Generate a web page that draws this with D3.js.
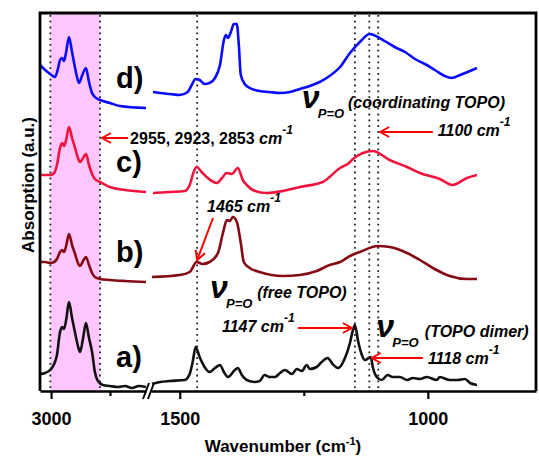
<!DOCTYPE html>
<html>
<head>
<meta charset="utf-8">
<script src="https://cdn.jsdelivr.net/npm/d3@7"></script>
<style>
  body { margin: 0; background: #fff; }
  text { font-family: Arial, "Liberation Sans", sans-serif; font-weight: bold; }
</style>
</head>
<body>
<div id="chart"></div>
<script>
var svgWidth = 539;
var svgHeight = 457;

var margin = { top: 13, right: 3, bottom: 66, left: 40 };
var width = svgWidth - margin.left - margin.right;
var height = svgHeight - margin.top - margin.bottom;

// dotted guide lines (wavenumber, cm-1)
var bandEdges = [3003, 2792];
var peakLines = [1465, 1147, 1118, 1100];

// tick labels
var leftTicks = [3000];
var leftMinor = [2750];
var rightTicks = [1500, 1000];
var rightMinor = [1250];

// spectra: [wavenumber, absorbance (a.u., offset)]
var aLeft = [[3047,17],[3025,18],[3004,21],[2987,27],[2975,36],[2962,59],[2953,64],[2945,62],[2936,71],[2924,89],[2911,73],[2898,58],[2886,45],[2877,39],[2864,53],[2852,68],[2839,53],[2826,39],[2814,19],[2801,10],[2780,6],[2750,5],[2716,4],[2686,5],[2657,3],[2627,5],[2597,4]];
var aRight = [[1556,7],[1540,9],[1520,10],[1490,11],[1480,17],[1474,29],[1468,44],[1460,34],[1450,24],[1440,19],[1429,23],[1419,26],[1411,19],[1403,14],[1389,21],[1383,23],[1375,16],[1365,11],[1349,9],[1339,10],[1329,16],[1319,14],[1308,14],[1298,18],[1288,21],[1274,17],[1264,22],[1254,20],[1244,26],[1238,22],[1224,24],[1214,29],[1202,33],[1192,27],[1181,23],[1167,33],[1157,48],[1151,61],[1147,66],[1141,51],[1135,39],[1127,31],[1119,33],[1115,34],[1111,24],[1103,14],[1093,11],[1081,16],[1071,14],[1056,14],[1042,11],[1030,13],[1016,12],[1002,14],[982,11],[976,14],[956,11],[940,11],[925,12],[915,8],[901,6]];

var bLeft = [[3047,129],[3025,129],[3004,128],[2987,129],[2975,132],[2962,139],[2953,141],[2945,139],[2936,145],[2924,157],[2911,146],[2898,137],[2886,128],[2877,125],[2864,130],[2852,134],[2839,126],[2826,118],[2814,114],[2792,112],[2750,111],[2686,110],[2597,109]];
var bRight = [[1556,114],[1500,116],[1480,119],[1466,129],[1454,127],[1440,129],[1423,138],[1413,158],[1405,171],[1399,170],[1393,174],[1385,169],[1377,148],[1371,129],[1359,123],[1339,119],[1292,115],[1258,116],[1224,120],[1198,126],[1177,129],[1157,135],[1137,139],[1101,145],[1077,144],[1042,138],[1016,131],[990,123],[956,115],[921,112],[901,112]];

var cLeft = [[3047,216],[3025,216],[3004,216],[2987,218],[2975,226],[2962,243],[2953,248],[2945,245],[2936,251],[2924,264],[2911,253],[2898,243],[2886,233],[2877,229],[2864,233],[2852,237],[2839,226],[2826,217],[2814,212],[2792,209],[2750,204],[2686,201],[2597,199]];
var cRight = [[1554,198],[1520,199],[1490,200],[1480,206],[1472,219],[1466,224],[1456,219],[1446,214],[1425,208],[1415,213],[1405,218],[1395,217],[1383,223],[1373,211],[1363,205],[1353,201],[1325,198],[1292,200],[1258,204],[1212,209],[1177,223],[1159,228],[1151,232],[1111,240],[1077,231],[1042,224],[1016,218],[976,212],[950,206],[921,213],[901,216]];

var dLeft = [[3047,326],[3025,321],[3004,317],[2983,314],[2970,323],[2962,331],[2953,333],[2945,330],[2936,339],[2924,354],[2911,339],[2898,323],[2881,308],[2869,315],[2852,323],[2839,309],[2826,298],[2814,294],[2792,291],[2750,288],[2708,285],[2597,283]];
var dRight = [[1554,299],[1540,298],[1520,297],[1500,296],[1484,299],[1476,306],[1468,312],[1460,311],[1450,307],[1440,308],[1429,313],[1419,326],[1411,351],[1407,356],[1403,353],[1397,359],[1391,367],[1385,367],[1381,346],[1377,316],[1369,307],[1359,303],[1339,300],[1319,299],[1298,298],[1278,299],[1258,302],[1238,305],[1218,309],[1198,315],[1177,324],[1157,338],[1137,349],[1117,357],[1101,354],[1087,350],[1067,344],[1046,339],[1026,332],[1006,327],[986,321],[966,315],[952,313],[935,316],[915,320],[901,323]];

var seriesNames = ["a)", "b)", "c)", "d)"];
var seriesColors = ["#111111", "#850a12", "#f0143c", "#0a0aff"];

var series = seriesNames.map(function (n, i) {
    return { name: n, color: seriesColors[i], left: [aLeft, bLeft, cLeft, dLeft][i], right: [aRight, bRight, cRight, dRight][i] };
});

var svg = d3.select("#chart")
    .append("svg")
    .attr("width", svgWidth)
    .attr("height", svgHeight);

var defs = svg.append("defs");
defs.append("marker")
    .attr("id", "arrow")
    .attr("markerUnits", "userSpaceOnUse")
    .attr("viewBox", "0 0 12 12")
    .attr("refX", 11)
    .attr("refY", 6)
    .attr("markerWidth", 12)
    .attr("markerHeight", 12)
    .attr("orient", "auto")
    .append("path")
    .attr("d", "M2,1 L11,6 L2,11")
    .attr("fill", "none")
    .attr("stroke", "#ff0000")
    .attr("stroke-width", 2);

var chartGroup = svg.append("g")
    .attr("transform", `translate(${margin.left}, ${margin.top})`);

// broken x axis: two linear scales
var xLeft = d3.scaleLinear().domain([3047, 2597]).range([0, 106]);
var xRight = d3.scaleLinear().domain([1558, 782]).range([111, width]);
var y = d3.scaleLinear().domain([0, 378]).range([height, 0]);

// pink band
chartGroup.append("rect")
    .attr("x", xLeft(bandEdges[0]))
    .attr("y", 0)
    .attr("width", xLeft(bandEdges[1]) - xLeft(bandEdges[0]))
    .attr("height", height)
    .attr("fill", "#ffc6ff");

// dotted lines
var dotted = bandEdges.map(d => xLeft(d)).concat(peakLines.map(d => xRight(d)));
chartGroup.selectAll("line.guide")
    .data(dotted)
    .enter()
    .append("line")
    .attr("class", "guide")
    .attr("x1", d => d).attr("x2", d => d)
    .attr("y1", 2).attr("y2", height)
    .attr("stroke", "#222")
    .attr("stroke-width", 1.8)
    .attr("stroke-dasharray", "1.8,4");

// spectra
var lineLeft = d3.line().x(d => xLeft(d[0])).y(d => y(d[1])).curve(d3.curveMonotoneX);
var lineRight = d3.line().x(d => xRight(d[0])).y(d => y(d[1])).curve(d3.curveMonotoneX);

series.forEach(function (s) {
    chartGroup.append("path")
        .attr("d", lineLeft(s.left))
        .attr("fill", "none")
        .attr("stroke", s.color)
        .attr("stroke-width", 2.6)
        .attr("stroke-linejoin", "round");
    chartGroup.append("path")
        .attr("d", lineRight(s.right))
        .attr("fill", "none")
        .attr("stroke", s.color)
        .attr("stroke-width", 2.6)
        .attr("stroke-linejoin", "round");
    // panel label sits above the tail of the left segment
    var last = s.left[s.left.length - 1];
    chartGroup.append("text")
        .attr("x", xLeft(2724))
        .attr("y", y(last[1]) - 20)
        .attr("font-size", 29)
        .text(s.name);
});

// axes
function styleAxis(g) {
    g.select(".domain").attr("stroke-width", 2.6).attr("stroke", "#000");
    g.selectAll(".tick line").attr("stroke-width", 2.2);
    g.selectAll(".tick text")
        .attr("font-size", 18)
        .attr("font-family", "Arial, 'Liberation Sans', sans-serif")
        .attr("font-weight", "bold")
        .attr("fill", "#000");
}

chartGroup.append("g")
    .attr("transform", `translate(0, ${height})`)
    .call(d3.axisBottom(xLeft).tickValues(leftTicks).tickFormat(d3.format("d")).tickSize(8).tickSizeOuter(0).tickPadding(13))
    .call(styleAxis);
chartGroup.append("g")
    .attr("transform", `translate(0, ${height})`)
    .call(d3.axisBottom(xRight).tickValues(rightTicks).tickFormat(d3.format("d")).tickSize(8).tickSizeOuter(0).tickPadding(13))
    .call(styleAxis);
[[xLeft, leftMinor], [xRight, rightMinor]].forEach(function (p) {
    chartGroup.append("g")
        .attr("transform", `translate(0, ${height})`)
        .call(d3.axisBottom(p[0]).tickValues(p[1]).tickSize(5).tickFormat(""))
        .call(g => g.select(".domain").remove())
        .selectAll(".tick line").attr("stroke-width", 2.2);
});

// axis break marks
[106, 111].forEach(function (bx) {
    chartGroup.append("line")
        .attr("x1", bx - 3).attr("y1", height + 8)
        .attr("x2", bx + 3).attr("y2", height - 8)
        .attr("stroke", "#000")
        .attr("stroke-width", 2);
});

// frame: left, top, right
chartGroup.append("path")
    .attr("d", `M0,${height} V0 H${width} V${height}`)
    .attr("fill", "none")
    .attr("stroke", "#000")
    .attr("stroke-width", 2.8);

// axis titles
var xTitle = svg.append("text")
    .attr("x", 283)
    .attr("y", 452)
    .attr("text-anchor", "middle")
    .attr("font-size", 17);
xTitle.append("tspan").text("Wavenumber (cm");
xTitle.append("tspan").attr("font-size", 11).attr("dy", -7).text("-1");
xTitle.append("tspan").attr("dy", 7).text(")");

svg.append("text")
    .attr("transform", "translate(34, 185) rotate(-90)")
    .attr("text-anchor", "middle")
    .attr("font-size", 17)
    .text("Absorption (a.u.)");

// annotations
function arrow(scale, from, to) {
    chartGroup.append("line")
        .attr("x1", scale(from[0])).attr("y1", y(from[1]))
        .attr("x2", scale(to[0])).attr("y2", y(to[1]))
        .attr("stroke", "#ff0000")
        .attr("stroke-width", 2)
        .attr("marker-end", "url(#arrow)");
}

function cmLabel(x, v, num, italicNum) {
    var t = chartGroup.append("text")
        .attr("x", x)
        .attr("y", y(v))
        .attr("font-size", 16);
    t.append("tspan").attr("font-style", italicNum ? "italic" : "normal").text(num + " ");
    t.append("tspan").attr("font-style", "italic").text("cm");
    t.append("tspan").attr("font-style", "italic").attr("font-size", 12).attr("dy", -10).text("-1");
}

function nuLabel(wn, v, rest, restWn) {
    var x = xRight(wn);
    chartGroup.append("text")
        .attr("x", x).attr("y", y(v))
        .attr("font-family", "'Liberation Serif', serif")
        .attr("font-style", "italic")
        .attr("font-size", 32)
        .text("ν");
    chartGroup.append("text")
        .attr("x", x + 16).attr("y", y(v) + 10)
        .attr("font-style", "italic")
        .attr("font-size", 13)
        .text("P=O");
    chartGroup.append("text")
        .attr("x", xRight(restWn)).attr("y", y(v))
        .attr("font-style", "italic")
        .attr("font-size", 16)
        .text(rest);
}

arrow(xLeft, [2673, 253], [2784, 253]);
cmLabel(xLeft(2673) + 2, 247, "2955, 2923, 2853", false);

arrow(xRight, [990, 259], [1096, 259]);
cmLabel(xRight(990) + 5, 255, "1100", true);

arrow(xRight, [1433, 173], [1465, 131]);
cmLabel(xRight(1445), 179, "1465", true);

arrow(xRight, [1262, 63], [1153, 63]);
cmLabel(xRight(1415), 59, "1147", true);

arrow(xRight, [1010, 33], [1113, 33]);
cmLabel(xRight(1010) + 5, 27, "1118", true);

nuLabel(1254, 283, "(coordinating TOPO)", 1161);
nuLabel(1439, 93, "(free TOPO)", 1344);
nuLabel(1104, 54, "(TOPO dimer)", 1006);
</script>
</body>
</html>
